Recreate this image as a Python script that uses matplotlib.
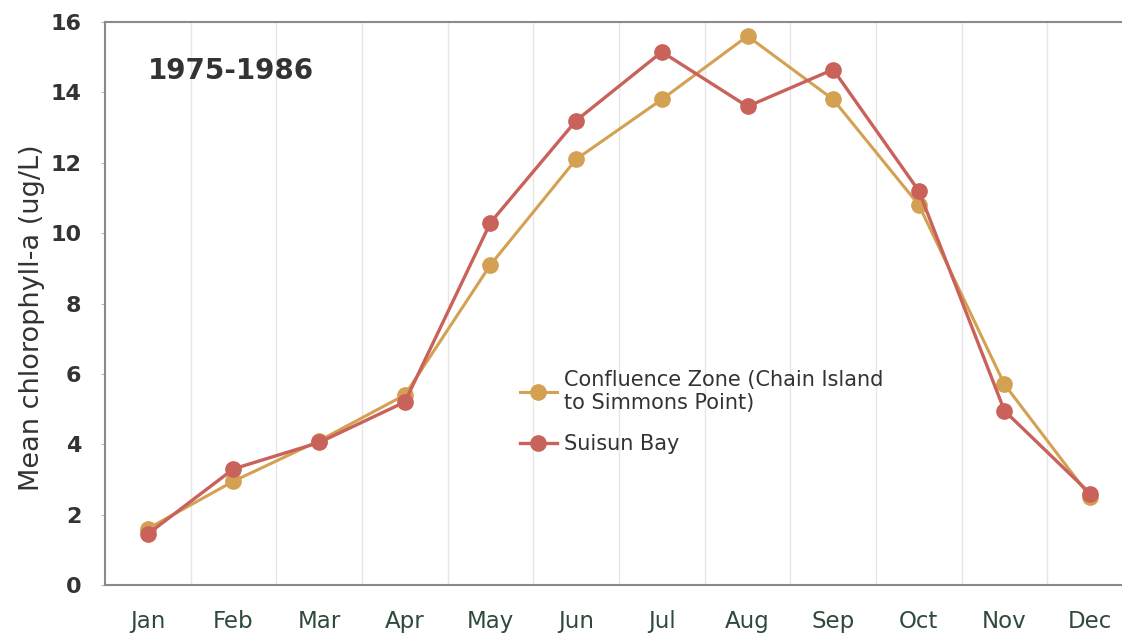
import numpy as np
import matplotlib.pyplot as plt
from matplotlib.ticker import MultipleLocator

months = ['Jan', 'Feb', 'Mar', 'Apr', 'May', 'Jun', 'Jul', 'Aug', 'Sep', 'Oct', 'Nov', 'Dec']
confluence = [1.6, 2.95, 4.1, 5.4, 9.1, 12.1, 13.8, 15.6, 13.8, 10.8, 5.7, 2.5]
suisun = [1.45, 3.3, 4.05, 5.2, 10.3, 13.2, 15.15, 13.6, 14.65, 11.2, 4.95, 2.6]
period = '1975-1986'

x = np.arange(len(months))

fig = plt.figure(figsize=(11.22, 6.37), dpi=100)
# axes run a bit past the right edge of the figure
ax = fig.add_axes([105 / 1122, 52 / 637, 1028 / 1122, 563 / 637])

ax.plot(x, confluence, '-o', color='#D4A052', lw=2.2, ms=11,
        label='Confluence Zone (Chain Island\nto Simmons Point)', zorder=3)
ax.plot(x, suisun, '-o', color='#C9625A', lw=2.4, ms=11,
        label='Suisun Bay', zorder=4)

ax.set_xlim(-0.5, 11.5)
ax.set_ylim(0, 16)
ax.yaxis.set_major_locator(MultipleLocator(2))
ax.set_xticks(x)
ax.set_xticklabels(months, fontsize=16.5, color='#2E4A3A')
ax.set_xticks(x[:-1] + 0.5, minor=True)
ax.tick_params(axis='x', which='major', length=0, pad=18)
ax.tick_params(axis='x', which='minor', length=0)
ax.tick_params(axis='y', length=3, color='#bbbbbb', pad=14, labelsize=16,
               labelcolor='#333333')
for lab in ax.get_yticklabels():
    lab.set_fontweight('bold')

ax.grid(True, axis='x', which='minor', color='#e6e6e6', lw=1)

for side in ['left', 'bottom', 'top']:
    ax.spines[side].set_color('#8a8a8a')
    ax.spines[side].set_linewidth(1.5)
ax.spines['right'].set_visible(False)

ax.set_ylabel('Mean chlorophyll-a (ug/L)', fontsize=19.5, color='#333333')
ax.yaxis.set_label_coords(-60 / 1028, 0.475)
ax.text(0.0, 14.6, period, fontsize=20, fontweight='bold', color='#333333',
        ha='left', va='center')

ax.legend(loc='upper left', bbox_to_anchor=(0.385, 0.415), frameon=False,
          fontsize=15, handlelength=1.8, labelspacing=1.0, handletextpad=0.35,
          labelcolor='#333333')

fig.savefig('out.png', dpi=100)
